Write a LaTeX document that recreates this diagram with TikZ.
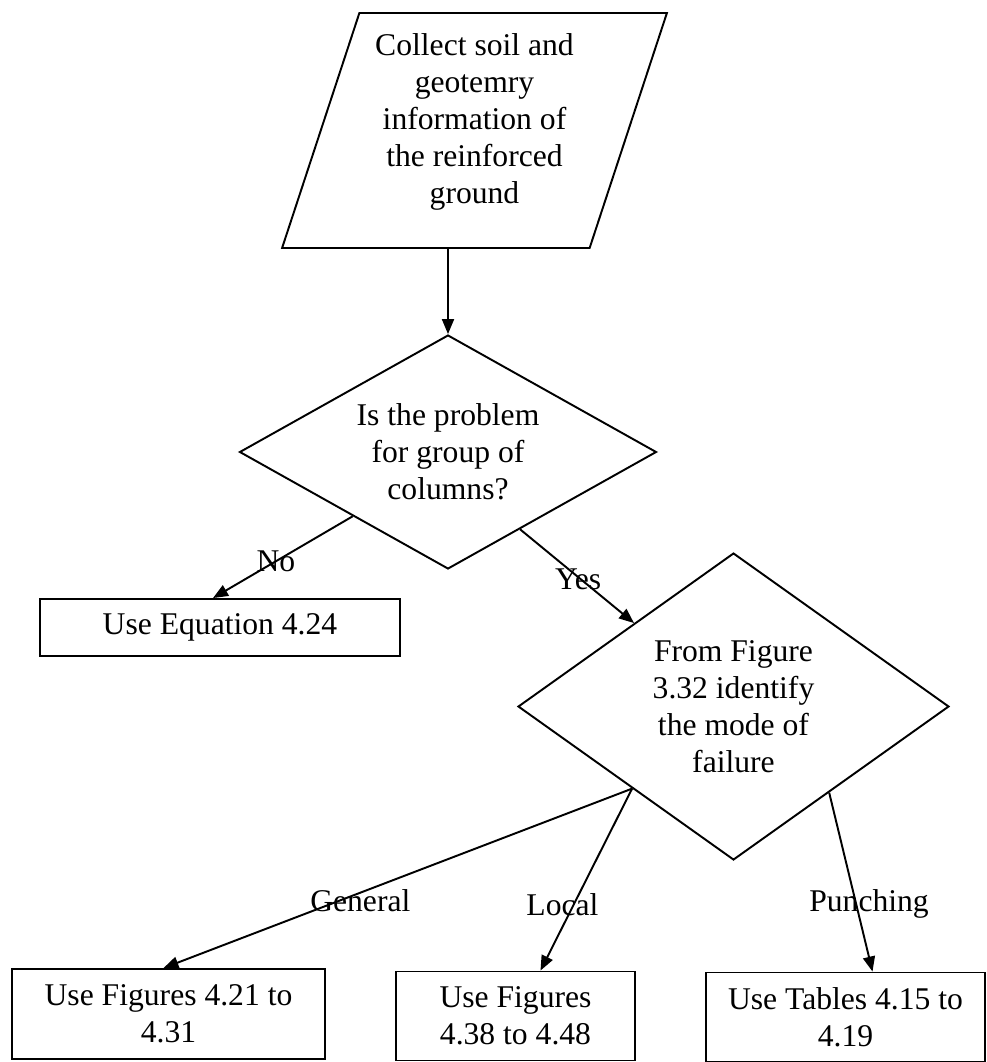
\documentclass[tikz,border=0pt]{standalone}
\usepackage{fontspec}
\setmainfont{Liberation Serif}
\usepackage{tikz}
\usetikzlibrary{arrows.meta,calc,positioning,shapes.geometric}
\tikzset{%
	datain/.style   = {draw, trapezium, trapezium left angle=71, trapezium right angle=109, trapezium stretches=true, minimum width=7.7cm, minimum height=4.7cm, inner sep=0pt, align=center},
	question/.style = {draw, diamond, inner sep=0pt, align=center},
	result/.style   = {draw, rectangle, inner sep=0pt, align=center},
	flow/.style     = {-{Triangle[length=0.3cm,width=0.24cm]}},
	branch/.style   = {inner sep=0pt},
}

\begin{document}
\begin{tikzpicture}[x=0.02cm, y=-0.02cm, line width=1.1pt, font=\fontsize{18}{21}\selectfont]
	\useasboundingbox (0,0) rectangle (987,1062);
	% input and first check
	\node[datain] (collect) at (474.5,130.5) {Collect soil and\\ geotemry\\ information of\\ the reinforced\\ ground\\[-0.26cm]};
	\node[question, aspect=1.78, minimum width=8.34cm, minimum height=4.68cm] (group) at (448,452) {Is the problem\\ for group of\\ columns?};
	\node[result, minimum width=7.2cm, minimum height=1.14cm] (single) at (220,627.5) {Use Equation 4.24};
	% mode of failure
	\node[question, aspect=1.4, minimum width=8.62cm, minimum height=6.14cm] (mode) at (733.5,706.5) {From Figure\\ 3.32 identify\\ the mode of\\ failure};
	\node[result, minimum width=6.26cm, minimum height=1.8cm] (general) at (168.5,1014) {Use Figures 4.21 to\\ 4.31};
	\node[result, minimum width=4.78cm, minimum height=1.78cm] (local) at (515.5,1016) {Use Figures\\ 4.38 to 4.48};
	\node[result, minimum width=5.58cm, minimum height=1.78cm] (punch) at (845.5,1017) {Use Tables 4.15 to\\ 4.19};
	% connectors
	\draw[flow] (group.north |- collect.south) -- (group.north);
	\draw[flow] (group.214) -- node[branch, pos=0.55] {No} ($(single.north)+(-7,0)$);
	\draw[flow] (group.313) -- node[branch, pos=0.51, yshift=-0.05cm] {Yes} (mode.140);
	\draw[flow] (mode.219) -- node[branch, pos=0.58, yshift=-0.15cm] {General} ($(general.north)+(-5,0)$);
	\draw[flow] (mode.219) -- node[branch, pos=0.64, xshift=-0.22cm] {Local} ($(local.north)+(25,0)$);
	\draw[flow] (mode.318) -- node[branch, pos=0.62, xshift=0.26cm] {Punching} ($(punch.north)+(27,0)$);
\end{tikzpicture}
\end{document}
